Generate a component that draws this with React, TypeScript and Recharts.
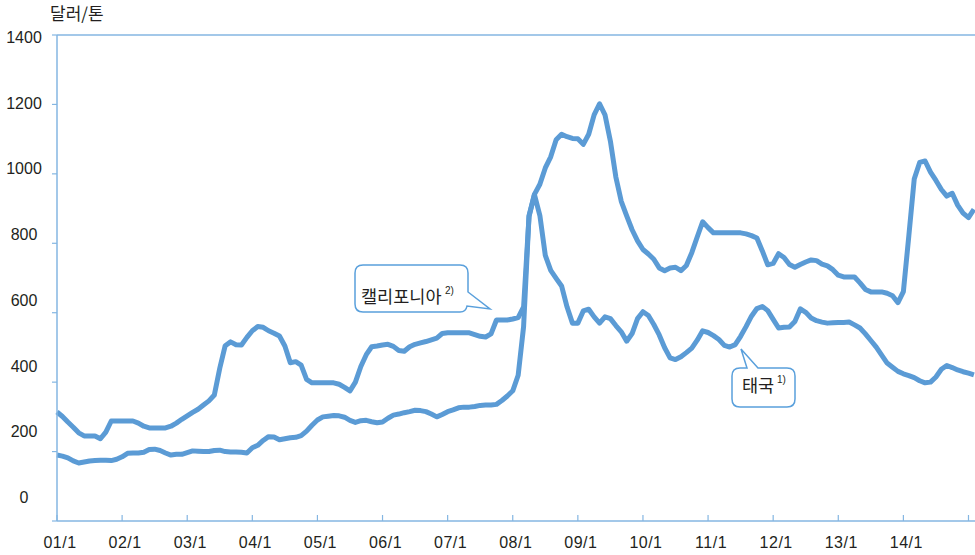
import { LineChart, Line, XAxis, YAxis, ReferenceLine } from "recharts";

// monthly prices, Jan 2001 .. Feb 2015 (US$/ton)
const california = [
  314, 301, 285, 270, 254, 245, 245, 245, 237, 256, 288, 288,
  288, 288, 288, 282, 273, 268, 268, 268, 268, 273, 282, 293,
  303, 313, 322, 334, 346, 363, 440, 505, 516, 508, 507, 529,
  548, 560, 558, 548, 541, 533, 504, 456, 459, 449, 408, 398,
  398, 398, 398, 398, 394, 385, 375, 400, 445, 479, 502, 504,
  507, 509, 503, 491, 489, 502, 509, 513, 517, 522, 527, 540,
  542, 542, 542, 542, 542, 537, 532, 530, 539, 579, 579, 579,
  582, 586, 617, 877, 941, 970, 1017, 1049, 1098, 1114, 1107, 1102,
  1101, 1085, 1114, 1170, 1202, 1170, 1094, 991, 921, 879, 839, 807,
  782, 769, 754, 729, 721, 729, 731, 721, 736, 773, 818, 862,
  845, 830, 830, 830, 830, 830, 830, 827, 822, 815, 778, 738,
  742, 770, 759, 739, 731, 739, 746, 752, 750, 740, 735, 724,
  708, 703, 703, 703, 686, 667, 660, 660, 660, 656, 649, 629,
  661, 821, 985, 1033, 1037, 1005, 981, 955, 936, 944, 910, 887,
  874, 898,
];

const thailand = [
  190, 187, 182, 173, 167, 170, 173, 174, 175, 175, 174, 178,
  185, 195, 196, 196, 198, 206, 207, 203, 196, 190, 192, 192,
  197, 202, 201, 200, 200, 203, 204, 200, 199, 199, 198, 196,
  211, 218, 232, 243, 242, 234, 237, 240, 241, 246, 259, 276,
  291, 300, 302, 304, 303, 299, 290, 284, 289, 290, 286, 283,
  285, 296, 305, 308, 312, 315, 319, 318, 315, 308, 300, 307,
  315, 320, 326, 328, 328, 330, 333, 334, 334, 336, 347, 360,
  375, 420, 560, 880, 940, 880, 765, 722, 699, 677, 617, 570,
  570, 605, 610, 588, 570, 588, 583, 563, 545, 518, 540, 583,
  603, 592, 566, 536, 499, 470, 465, 473, 485, 498, 521, 548,
  543, 534, 523, 506, 501, 508, 532, 560, 590, 612, 618, 606,
  581, 556, 558, 559, 575, 611, 601, 585, 577, 573, 570, 571,
  572, 572, 573, 565, 556, 539, 520, 501, 478, 455, 443, 431,
  424, 419, 413, 404, 398, 400, 415, 437, 448, 442, 435, 430,
  426, 421,
];

const xTicks = [0, 12, 24, 36, 48, 60, 72, 84, 96, 108, 120, 132, 144, 156, 168];
const xTickLabels = [
  "01/1", "02/1", "03/1", "04/1", "05/1", "06/1", "07/1", "08/1",
  "09/1", "10/1", "11/1", "12/1", "13/1", "14/1", "",
];
const yTicks = [0, 200, 400, 600, 800, 1000, 1200, 1400];

const data = california.map((c, i) => ({ m: i, cal: c, thai: thailand[i] }));

const LINE = "#5b9bd5";
const AXIS = "#84b6e2";
const TEXT = "#231f20";
const NUM_FONT = "'Liberation Sans', Arial, sans-serif";
const KR_FONT = "'Noto Sans CJK KR', sans-serif";
const AXIS_Y = 521;

const XTick = (props: any) => {
  const { x, payload } = props;
  const label = xTickLabels[xTicks.indexOf(payload.value)];
  return (
    <g>
      <line x1={x} x2={x} y1={AXIS_Y} y2={AXIS_Y - 6} stroke={AXIS} strokeWidth={1.2} />
      <text x={x + 3} y={548} textAnchor="middle" fontSize={16} letterSpacing={0.5} fill={TEXT} fontFamily={NUM_FONT}>
        {label}
      </text>
    </g>
  );
};

// labels in the original drift slightly from their tick marks
const YTick = (props: any) => {
  const { y, payload } = props;
  const v = payload.value;
  const dy = -24 + v * 0.01857;
  return (
    <g>
      <line x1={52} x2={57} y1={y} y2={y} stroke={AXIS} strokeWidth={1.2} />
      <text x={24} y={y + dy + 6} textAnchor="middle" fontSize={16} fill={TEXT} fontFamily={NUM_FONT}>
        {v}
      </text>
    </g>
  );
};

export default function App() {
  return (
    <div style={{ position: "absolute", left: 0, top: 0, width: 975, height: 555, background: "#fff" }}>
      <LineChart
        width={975}
        height={555}
        data={data}
        margin={{ top: 35, right: 0, bottom: 0, left: 0 }}
      >
        <XAxis
          type="number"
          dataKey="m"
          domain={[0, 169.2]}
          ticks={xTicks}
          tick={<XTick />}
          tickLine={false}
          axisLine={{ stroke: AXIS, strokeWidth: 1.5 }}
          height={34}
          interval={0}
        />
        <YAxis
          domain={[0, 1400]}
          ticks={yTicks}
          tick={<YTick />}
          tickLine={false}
          axisLine={{ stroke: AXIS, strokeWidth: 1.5 }}
          width={57}
          interval={0}
        />
        <ReferenceLine y={1400} stroke={AXIS} strokeWidth={1.5} />
        <Line
          type="linear"
          dataKey="cal"
          stroke={LINE}
          strokeWidth={5}
          strokeLinejoin="round"
          dot={false}
          isAnimationActive={false}
        />
        <Line
          type="linear"
          dataKey="thai"
          stroke={LINE}
          strokeWidth={5}
          strokeLinejoin="round"
          dot={false}
          isAnimationActive={false}
        />
      </LineChart>

      <svg
        width={975}
        height={555}
        style={{ position: "absolute", left: 0, top: 0, pointerEvents: "none" }}
      >
        <text x={50} y={20} fontSize={17} fill={TEXT} fontFamily={KR_FONT}>
          달러/톤
        </text>

        <path
          d="M 363 265 H 460 Q 468 265 468 273 V 292 L 490 309 L 467 306 Q 466 312 460 312 H 363 Q 355 312 355 304 V 273 Q 355 265 363 265 Z"
          fill="#fff"
          stroke="#5aa0dc"
          strokeWidth={1.5}
        />
        <text x={361} y={303} fontSize={17.5} fill={TEXT} fontFamily={KR_FONT}>
          캘리포니아
        </text>
        <text x={445} y={294} fontSize={10} fill={TEXT} fontFamily={NUM_FONT}>
          2)
        </text>

        <path
          d="M 740 368 H 747 L 741 349 L 758 368 H 787 Q 795 368 795 376 V 399 Q 795 407 787 407 H 740 Q 732 407 732 399 V 376 Q 732 368 740 368 Z"
          fill="#fff"
          stroke="#5aa0dc"
          strokeWidth={1.5}
        />
        <text x={742} y={392} fontSize={17.5} fill={TEXT} fontFamily={KR_FONT}>
          태국
        </text>
        <text x={777} y={383} fontSize={10} fill={TEXT} fontFamily={NUM_FONT}>
          1)
        </text>
      </svg>
    </div>
  );
}
